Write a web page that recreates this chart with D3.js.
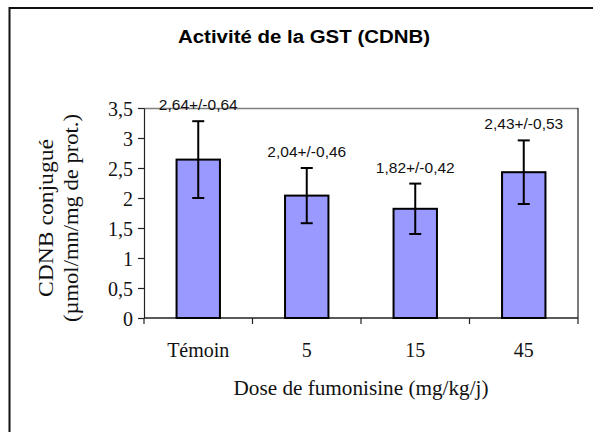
<!DOCTYPE html>
<html>
<head>
<meta charset="utf-8">
<script src="https://cdn.jsdelivr.net/npm/d3@7"></script>
<style>
  body { margin: 0; background: #fff; }
</style>
</head>
<body>
<svg id="chart"></svg>
<script>
// data
const categories = ['Témoin', '5', '15', '45'];
const means = [2.64, 2.04, 1.82, 2.43];
const errors = [0.64, 0.46, 0.42, 0.53];
const yTicks = [0, 0.5, 1, 1.5, 2, 2.5, 3, 3.5];

const W = 593, H = 432;
const margin = { top: 108, right: 15, bottom: 114, left: 144 };
const width = W - margin.left - margin.right;
const height = H - margin.top - margin.bottom;

const svg = d3.select('#chart').attr('width', W).attr('height', H);

// outer frame (cut off on the right and bottom like the original)
svg.append('rect')
  .attr('x', 9.5).attr('y', 8)
  .attr('width', W + 20).attr('height', H + 20)
  .attr('fill', 'none').attr('stroke', '#111').attr('stroke-width', 2);

svg.append('text')
  .attr('x', 304).attr('y', 43)
  .attr('text-anchor', 'middle')
  .attr('textLength', 252).attr('lengthAdjust', 'spacingAndGlyphs')
  .style('font-family', 'Liberation Sans, Arial, sans-serif')
  .style('font-weight', 'bold').style('font-size', '18px')
  .text('Activité de la GST (CDNB)');

const g = svg.append('g').attr('transform', `translate(${margin.left},${margin.top})`);

const x = d3.scaleBand().domain(categories).range([0, width]).paddingInner(0.6).paddingOuter(0.3);
const xb = d3.scaleBand().domain(categories).range([0, width]);
const y = d3.scaleLinear().domain([0, 3.5]).range([height, 0]);

// plot frame top / right
g.append('line').attr('x1', 0).attr('x2', width).attr('y1', 0.5).attr('y2', 0.5)
  .attr('stroke', '#808080').attr('stroke-width', 1.5);
g.append('line').attr('x1', width).attr('x2', width).attr('y1', 0).attr('y2', height)
  .attr('stroke', '#222').attr('stroke-width', 1.2);

// y axis
const yAxis = g.append('g')
  .call(d3.axisLeft(y).tickValues(yTicks).tickSize(6).tickSizeOuter(0)
    .tickFormat(d => String(d).replace('.', ',')));
yAxis.selectAll('path, line').attr('stroke', '#222').attr('stroke-width', 1.2);
yAxis.selectAll('text')
  .style('font-family', 'Liberation Serif, Times New Roman, serif')
  .style('font-size', '20px').attr('fill', '#111').attr('x', -11).attr('dy', '0.35em');

// x axis with ticks at category boundaries
const xAxisG = g.append('g').attr('transform', `translate(0,${height})`);
xAxisG.append('line').attr('x1', 0).attr('x2', width).attr('stroke', '#222').attr('stroke-width', 1.5);
const bounds = categories.map(c => xb(c)).concat([width]);
xAxisG.selectAll('.tk').data(bounds).enter().append('line')
  .attr('x1', d => d).attr('x2', d => d).attr('y1', 0).attr('y2', 6)
  .attr('stroke', '#222').attr('stroke-width', 1.2);
xAxisG.selectAll('.lbl').data(categories).enter().append('text')
  .attr('x', d => xb(d) + xb.bandwidth() / 2).attr('y', 39)
  .attr('text-anchor', 'middle')
  .style('font-family', 'Liberation Serif, Times New Roman, serif')
  .style('font-size', '20px').attr('fill', '#111')
  .text(d => d);

// bars
const rows = categories.map((c, i) => ({ c, m: means[i], e: errors[i] }));
g.selectAll('.bar').data(rows).enter().append('rect')
  .attr('x', d => x(d.c)).attr('width', x.bandwidth())
  .attr('y', d => y(d.m)).attr('height', d => height - y(d.m))
  .attr('fill', '#9999ff').attr('stroke', '#000').attr('stroke-width', 2);

// error bars
const eb = g.selectAll('.err').data(rows).enter().append('g')
  .attr('transform', d => `translate(${x(d.c) + x.bandwidth() / 2},0)`);
eb.append('line').attr('y1', d => y(d.m - d.e)).attr('y2', d => y(d.m + d.e))
  .attr('stroke', '#000').attr('stroke-width', 2);
eb.append('line').attr('x1', -6).attr('x2', 6).attr('y1', d => y(d.m + d.e)).attr('y2', d => y(d.m + d.e))
  .attr('stroke', '#000').attr('stroke-width', 2);
eb.append('line').attr('x1', -6).attr('x2', 6).attr('y1', d => y(d.m - d.e)).attr('y2', d => y(d.m - d.e))
  .attr('stroke', '#000').attr('stroke-width', 2);

// value labels
const fmt = v => v.toFixed(2).replace('.', ',');
eb.append('text')
  .attr('y', d => y(d.m + d.e) - 11)
  .attr('text-anchor', 'middle')
  .style('font-family', 'Liberation Sans, Arial, sans-serif')
  .style('font-size', '15.5px').attr('fill', '#111')
  .text(d => `${fmt(d.m)}+/-${fmt(d.e)}`);

// axis titles
svg.append('text')
  .attr('x', 361).attr('y', 395).attr('text-anchor', 'middle')
  .attr('textLength', 255).attr('lengthAdjust', 'spacingAndGlyphs')
  .style('font-family', 'Liberation Serif, Times New Roman, serif')
  .style('font-size', '20px').attr('fill', '#111')
  .text('Dose de fumonisine (mg/kg/j)');

const yt = svg.append('text')
  .attr('transform', `translate(0,218) rotate(-90)`)
  .attr('text-anchor', 'middle')
  .style('font-family', 'Liberation Serif, Times New Roman, serif')
  .style('font-size', '20px').attr('fill', '#111');
yt.append('tspan').attr('x', 0).attr('y', 53)
  .attr('textLength', 158).attr('lengthAdjust', 'spacingAndGlyphs')
  .text('CDNB conjugué');
yt.append('tspan').attr('x', 0).attr('y', 78)
  .attr('textLength', 208).attr('lengthAdjust', 'spacingAndGlyphs')
  .text('(µmol/mn/mg de prot.)');
</script>
</body>
</html>
